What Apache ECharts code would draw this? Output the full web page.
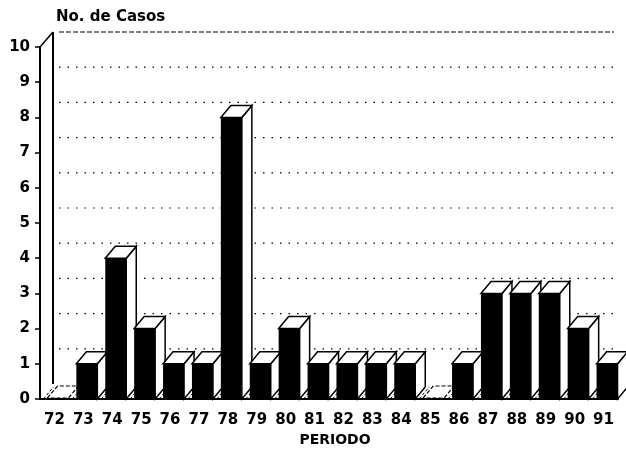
<!DOCTYPE html>
<html>
<head>
    <meta charset="utf-8">
    <title>ECharts</title>
    <script src="https://cdn.jsdelivr.net/npm/echarts@6/dist/echarts.min.js"></script>
</head>
<body style="margin:0;background:#fff;">
    <div id="main" style="width:626px;height:452px;"></div>
    <script type="text/javascript">
        var periodos = ['72', '73', '74', '75', '76', '77', '78', '79', '80', '81',
                        '82', '83', '84', '85', '86', '87', '88', '89', '90', '91'];
        var casos = [0, 1, 4, 2, 1, 1, 8, 1, 2, 1, 1, 1, 1, 0, 1, 3, 3, 3, 2, 1];
        var niveles = [1, 2, 3, 4, 5, 6, 7, 8, 9, 10];

        var FONT = '"DejaVu Sans", Verdana, sans-serif';
        // profundidad del efecto 3D
        var DX = 10, DY = -12;
        // desplazamiento de la pared del fondo
        var WX = 13, WY = -15;

        var myChart = echarts.init(document.getElementById('main'));

        // barras 3D: cara frontal negra, tapa y lado blancos
        function renderBar(params, api) {
            var v = api.value(1);
            var c = api.coord([api.value(0), v]);
            var b = api.coord([api.value(0), 0]);
            var x0 = c[0] - 7, x1 = c[0] + 14;
            var top = c[1], bot = b[1];
            var children = [];
            // marca diagonal del piso
            children.push({
                type: 'line',
                shape: { x1: x0 - 4, y1: bot, x2: x0 - 4 + DX, y2: bot + DY },
                style: { stroke: '#000', lineWidth: 1, lineDash: [3, 2] }
            });
            if (v > 0) {
                children.push({
                    type: 'rect',
                    shape: { x: x0, y: top, width: x1 - x0, height: bot - top },
                    style: { fill: '#000' }
                });
                children.push({
                    type: 'polygon',
                    shape: { points: [[x1, top], [x1 + DX, top + DY], [x1 + DX, bot + DY], [x1, bot]] },
                    style: { fill: '#fff', stroke: '#000', lineWidth: 1.5 }
                });
                children.push({
                    type: 'polygon',
                    shape: { points: [[x0, top], [x0 + DX, top + DY], [x1 + DX, top + DY], [x1, top]] },
                    style: { fill: '#fff', stroke: '#000', lineWidth: 1.5 }
                });
            } else {
                children.push({
                    type: 'polygon',
                    shape: { points: [[x0, bot - 1], [x0 + DX, bot - 1 + DY], [x1 + DX, bot - 1 + DY], [x1, bot - 1]] },
                    style: { fill: '#fff', stroke: '#000', lineWidth: 1.2, lineDash: [4, 2] }
                });
            }
            return { type: 'group', children: children };
        }

        // líneas de la pared del fondo
        function renderGrid(params, api) {
            var v = api.value(0);
            var band = api.size([1, 0])[0];
            var first = api.coord([0, v]);
            var last = api.coord([periodos.length - 1, v]);
            var xs = first[0] - band / 2 + WX;
            var xe = last[0] + band / 2 - 4;
            var y = first[1] + WY;
            var children = [{
                type: 'line',
                shape: { x1: xs + 6, y1: y, x2: xe, y2: y },
                style: { stroke: '#000', lineWidth: 1.2, lineDash: v === 10 ? [5, 2] : [1.5, 7] }
            }];
            if (v === 10) {
                var z = api.coord([0, 0]);
                var xl = first[0] - band / 2;
                children.push({
                    type: 'line',
                    shape: { x1: xs, y1: y, x2: xs, y2: z[1] + WY },
                    style: { stroke: '#000', lineWidth: 2 }
                });
                children.push({
                    type: 'line',
                    shape: { x1: xl, y1: first[1], x2: xs, y2: y },
                    style: { stroke: '#000', lineWidth: 1.5 }
                });
            }
            return { type: 'group', children: children };
        }

        var option = {
            animation: false,
            backgroundColor: '#fff',
            title: {
                text: 'No. de Casos',
                left: 51,
                top: 5,
                textStyle: { fontFamily: FONT, fontSize: 15, fontWeight: 'bold', color: '#000' }
            },
            grid: { left: 40, right: 8, top: 47, bottom: 52 },
            xAxis: {
                type: 'category',
                data: periodos,
                name: 'PERIODO',
                nameLocation: 'middle',
                nameGap: 34,
                nameTextStyle: { fontFamily: FONT, fontSize: 14, fontWeight: 'bold', color: '#000', padding: [0, 0, 0, 12] },
                axisLine: { lineStyle: { color: '#000', width: 2 } },
                axisTick: { alignWithLabel: true, length: 6, lineStyle: { color: '#000', width: 1.5 } },
                axisLabel: { fontFamily: FONT, fontSize: 15, fontWeight: 'bold', color: '#000', margin: 14 },
                splitLine: { show: false }
            },
            yAxis: {
                type: 'value',
                min: 0,
                max: 10,
                interval: 1,
                axisLine: { show: true, lineStyle: { color: '#000', width: 2 } },
                axisTick: { show: true, length: 5, lineStyle: { color: '#000', width: 1.5 } },
                axisLabel: { fontFamily: FONT, fontSize: 15, fontWeight: 'bold', color: '#000', margin: 10 },
                splitLine: { show: false }
            },
            series: [{
                type: 'custom',
                renderItem: renderGrid,
                data: niveles.map(function (n) { return [n]; }),
                encode: { y: 0 },
                silent: true,
                z: 1
            }, {
                type: 'custom',
                renderItem: renderBar,
                data: casos.map(function (c, i) { return [i, c]; }),
                encode: { x: 0, y: 1 },
                z: 2
            }]
        };

        myChart.setOption(option);
    </script>
</body>
</html>
